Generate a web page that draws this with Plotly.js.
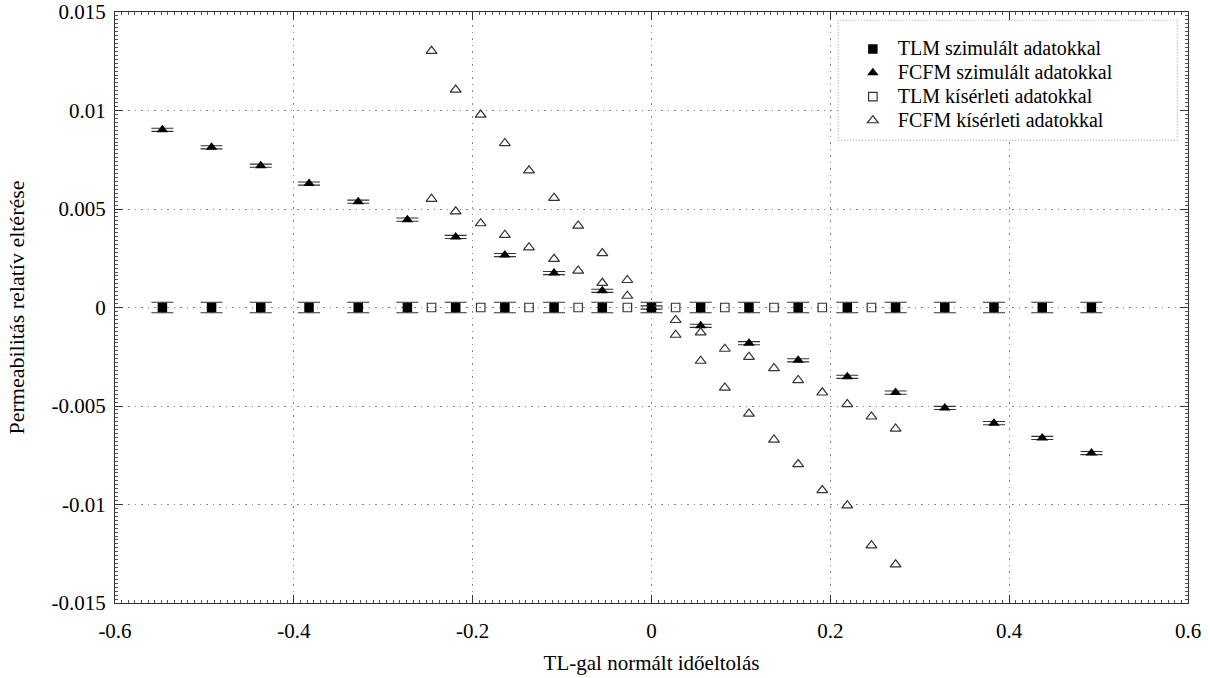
<!DOCTYPE html>
<html>
<head>
<meta charset="utf-8">
<script src="https://cdn.plot.ly/plotly-3.0.1.min.js"></script>
<style>html,body{margin:0;padding:0;background:#fff;}#chart{width:1210px;height:678px;}</style>
</head>
<body>
<div id="chart"></div>
<script>
// ---- data ----
const seriesNames = [
  'TLM szimulált adatokkal',
  'FCFM szimulált adatokkal',
  'TLM kísérleti adatokkal',
  'FCFM kísérleti adatokkal'
];

// simulated points (common x)
const simX = [-0.547, -0.492, -0.437, -0.383, -0.328, -0.273, -0.219, -0.164, -0.109, -0.055,
              0, 0.055, 0.109, 0.164, 0.219, 0.273, 0.328, 0.383, 0.437, 0.492];
const tlmSimY = [0, 0, 0, 0, 0, 0, 0, 0, 0, 0, 0, 0, 0, 0, 0, 0, 0, 0, 0, 0];
const tlmSimErr = 0.00027;
const fcfmSimY = [0.00902, 0.00813, 0.00720, 0.00629, 0.00537, 0.00446, 0.00358, 0.00266, 0.00175, 0.00085,
                  0, -0.00093, -0.00181, -0.00268, -0.00352, -0.00432, -0.00510, -0.00587, -0.00662, -0.00739];
const fcfmSimErr = 0.00008;

// experimental TLM
const tlmExpX = [-0.246, -0.191, -0.137, -0.082, -0.027, 0.027, 0.082, 0.137, 0.191, 0.246];
const tlmExpY = [0, 0, 0, 0, 0, 0, 0, 0, 0, 0];

// experimental FCFM (two branches)
const fcfmExpX = [
  -0.246, -0.219, -0.191, -0.164, -0.137, -0.109, -0.082, -0.055, -0.027,
  -0.246, -0.219, -0.191, -0.164, -0.137, -0.109, -0.082, -0.055, -0.027,
  0.027, 0.055, 0.082, 0.109, 0.137, 0.164, 0.191, 0.219, 0.246, 0.273,
  0.027, 0.055, 0.082, 0.109, 0.137, 0.164, 0.191, 0.219, 0.246, 0.273
];
const fcfmExpY = [
  0.01302, 0.01105, 0.00978, 0.00834, 0.00695, 0.00556, 0.00415, 0.00275, 0.00139,
  0.00551, 0.00487, 0.00427, 0.00368, 0.00305, 0.00246, 0.00187, 0.00124, 0.00059,
  -0.00064, -0.00127, -0.00210, -0.00251, -0.00308, -0.00369, -0.00432, -0.00491, -0.00554, -0.00615,
  -0.00139, -0.00271, -0.00407, -0.00539, -0.00671, -0.00796, -0.00928, -0.01005, -0.01208, -0.01305
];

// ticks
const xTickVals = [-0.6, -0.4, -0.2, 0, 0.2, 0.4, 0.6];
const xTickLabels = ['-0.6', '-0.4', '-0.2', '0', '0.2', '0.4', '0.6'];
const yTickVals = [-0.015, -0.01, -0.005, 0, 0.005, 0.01, 0.015];
const yTickLabels = ['-0.015', '-0.01', '-0.005', '0', '0.005', '0.01', '0.015'];

const xTitle = 'TL-gal normált időeltolás';
const yTitle = 'Permeabilitás relatív eltérése';

// ---- chart ----
const FONT = 'Liberation Serif';
const legendName = n => '<span style="font-size:20px">' + n + '</span>';

const traces = [
  {
    type: 'scatter', mode: 'markers', name: legendName(seriesNames[0]),
    x: simX, y: tlmSimY,
    marker: {symbol: 'square', size: 9.5, color: '#000'},
    error_y: {type: 'constant', value: tlmSimErr, width: 11, thickness: 1.1, color: '#333'}
  },
  {
    type: 'scatter', mode: 'markers', name: legendName(seriesNames[1]),
    x: simX, y: fcfmSimY,
    marker: {symbol: 'triangle-up', size: 10, color: '#000'},
    error_y: {type: 'constant', value: fcfmSimErr, width: 11, thickness: 1.1, color: '#333'}
  },
  {
    type: 'scatter', mode: 'markers', name: legendName(seriesNames[2]),
    x: tlmExpX, y: tlmExpY,
    marker: {symbol: 'square-open', size: 8.5, color: '#333', line: {width: 1.2, color: '#333'}}
  },
  {
    type: 'scatter', mode: 'markers', name: legendName(seriesNames[3]),
    x: fcfmExpX, y: fcfmExpY,
    marker: {symbol: 'triangle-up-open', size: 9.5, color: '#333', line: {width: 1.2, color: '#333'}}
  }
];

const axisCommon = {
  showline: true, linecolor: '#333', linewidth: 1, mirror: 'allticks',
  ticks: 'inside', ticklen: 8, tickcolor: '#333', tickwidth: 1,
  showgrid: true, gridcolor: '#888', gridwidth: 1, griddash: '1.5px,5px',
  zeroline: false,
  tickfont: {family: FONT, size: 21, color: '#000'},
  automargin: false
};

const layout = {
  width: 1210, height: 678,
  margin: {l: 115, r: 22, t: 12, b: 75},
  paper_bgcolor: '#fff', plot_bgcolor: '#fff',
  font: {family: FONT, size: 20, color: '#000'},
  showlegend: true,
  xaxis: Object.assign({}, axisCommon, {
    range: [-0.6, 0.6],
    tickmode: 'array', tickvals: xTickVals, ticktext: xTickLabels,
    ticklabelstandoff: 9,
    minor: {tickmode: 'linear', tick0: -0.6, dtick: 0.2 / 27, ticks: 'inside', ticklen: 3, tickcolor: '#555', showgrid: false},
    title: {text: xTitle, font: {family: FONT, size: 21, color: '#000'}, standoff: 13}
  }),
  yaxis: Object.assign({}, axisCommon, {
    range: [-0.015, 0.015],
    tickmode: 'array', tickvals: yTickVals, ticktext: yTickLabels,
    ticklabelstandoff: 4,
    minor: {tickmode: 'linear', tick0: -0.015, dtick: 0.0002, ticks: 'inside', ticklen: 3, tickcolor: '#555', showgrid: false},
    title: {text: yTitle, font: {family: FONT, size: 22, color: '#000'}, standoff: 20}
  }),
  legend: {
    x: 0.683, xanchor: 'left', y: 0.966, yanchor: 'top',
    bgcolor: 'rgba(255,255,255,0)', borderwidth: 0,
    font: {family: FONT, size: 16, color: '#000'},
    tracegroupgap: 0, itemwidth: 40
  },
  shapes: [{
    type: 'rect', xref: 'paper', yref: 'paper',
    x0: 0.674, x1: 0.99, y0: 0.783, y1: 0.986,
    line: {color: '#999', width: 1, dash: '1px,2px'}, fillcolor: '#fff', layer: 'above'
  }]
};

Plotly.newPlot('chart', traces, layout, {displayModeBar: false, staticPlot: true});
</script>
</body>
</html>
